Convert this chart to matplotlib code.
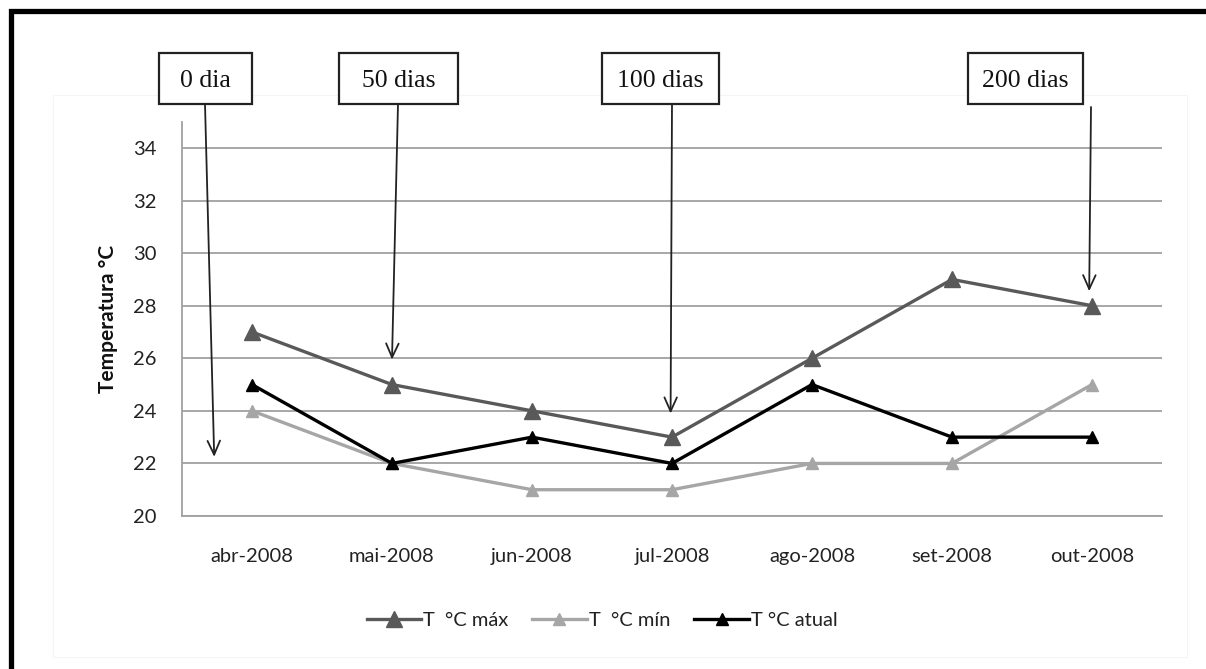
import matplotlib
matplotlib.use("Agg")
import matplotlib.pyplot as plt
from matplotlib.lines import Line2D
from matplotlib.patches import Rectangle

# Monthly temperatures (°C)
months = ["abr-2008", "mai-2008", "jun-2008", "jul-2008", "ago-2008", "set-2008", "out-2008"]
t_max = [27, 25, 24, 23, 26, 29, 28]
t_min = [24, 22, 21, 21, 22, 22, 25]
t_atual = [25, 22, 23, 22, 25, 23, 23]

series_labels = ["T  °C máx", "T  °C mín", "T °C atual"]
yticks = [20, 22, 24, 26, 28, 30, 32, 34]

# Sampling milestones: label, box (left, top, right, bottom in image px),
# arrow tail (image px), arrow tip (data coords)
milestones = [
    ("0 dia",    (159, 53, 252, 104), (205, 104), (-0.27, 22.25)),
    ("50 dias",  (339, 53, 458, 104), (398, 104), (1.0, 25.95)),
    ("100 dias", (602, 53, 719, 104), (672, 104), (2.99, 23.9)),
    ("200 dias", (968, 53, 1083, 104), (1091, 107), (5.98, 28.55)),
]

W, H = 1206, 669
fig = plt.figure(figsize=(W / 100, H / 100), dpi=100)
fig.patch.set_facecolor("white")

font = ["Lato", "DejaVu Sans"]
serif = ["Liberation Serif", "DejaVu Serif"]

def px(x, y):
    return x / W, 1 - y / H

# faint chart-area frame
fig.add_artist(Rectangle(px(53, 657), (1187 - 53) / W, (657 - 95) / H,
                         transform=fig.transFigure, fill=False,
                         edgecolor="#f5f5f5", linewidth=0.8))

# heavy outer border (top and left)
fig.add_artist(Line2D([10.5 / W, 10.5 / W, 1.0], [0.0, 1 - 10.5 / H, 1 - 10.5 / H],
                      transform=fig.transFigure, color="black", linewidth=3.8,
                      solid_joinstyle="miter"))

ax_l, ax_r = 182, 1162
ax_t, ax_b = 121.7, 516
ax = fig.add_axes([ax_l / W, 1 - ax_b / H, (ax_r - ax_l) / W, (ax_b - ax_t) / H])
ax.set_facecolor("none")

x = list(range(len(months)))
ax.plot(x, t_max, color="#595959", linewidth=2.4, marker="^", markersize=11.5,
        label=series_labels[0], zorder=4)
ax.plot(x, t_min, color="#a6a6a6", linewidth=2.4, marker="^", markersize=8.5,
        label=series_labels[1], zorder=3)
ax.plot(x, t_atual, color="black", linewidth=2.4, marker="^", markersize=8.5,
        label=series_labels[2], zorder=5)

ax.set_xlim(-0.5, len(months) - 0.5)
ax.set_ylim(20, 35)
ax.set_yticks(yticks)
ax.set_xticks(x)
ax.set_xticklabels(months)
ax.grid(axis="y", color="#a0a0a0", linewidth=1.3)
ax.set_axisbelow(True)
for s in ["top", "right"]:
    ax.spines[s].set_visible(False)
for s in ["left", "bottom"]:
    ax.spines[s].set_color("#a0a0a0")
    ax.spines[s].set_linewidth(1.3)
ax.tick_params(axis="both", length=0, labelsize=14.5, labelcolor="#222222")
ax.tick_params(axis="y", pad=18)
ax.tick_params(axis="x", pad=23)
for lab in ax.get_xticklabels() + ax.get_yticklabels():
    lab.set_family(font)

ax.set_ylabel("Temperatura °C", fontsize=15, fontweight="bold", family=font,
              labelpad=11, color="#111111")

leg = ax.legend(loc="center", bbox_to_anchor=(602 / W, 1 - 620 / H),
                bbox_transform=fig.transFigure, ncol=3, frameon=False,
                prop={"family": font, "size": 14.5}, handlelength=2.7,
                handletextpad=0.1, columnspacing=1.2)
for t in leg.get_texts():
    t.set_color("#222222")

# milestone boxes and arrows
for label, (l, t, r, b), (tx, ty), (dx, dy) in milestones:
    fig.add_artist(Rectangle(px(l, b), (r - l) / W, (b - t) / H,
                             transform=fig.transFigure, facecolor="white",
                             edgecolor="#222222", linewidth=1.6, zorder=6))
    cx, cy = px((l + r) / 2, (t + b) / 2 + 2.5)
    fig.text(cx, cy, label, ha="center", va="center", fontsize=18.5,
             family=serif, color="#111111", zorder=7)
    ax.annotate("", xy=(dx, dy), xycoords="data",
                xytext=px(tx, ty), textcoords="figure fraction",
                arrowprops=dict(arrowstyle="->,head_length=1.0,head_width=0.45",
                                color="#222222", linewidth=1.3,
                                shrinkA=0, shrinkB=0),
                annotation_clip=False, zorder=6)

fig.savefig("out.png", dpi=100)
